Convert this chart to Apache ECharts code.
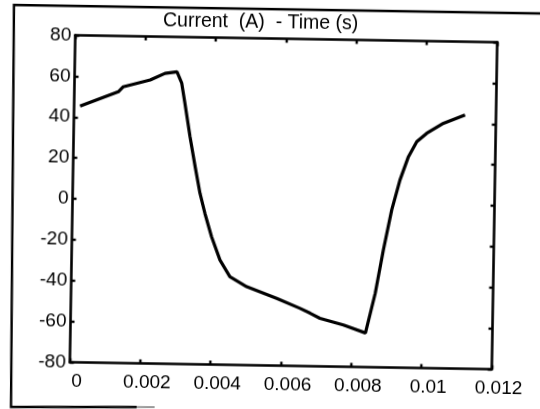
<!DOCTYPE html>
<html>
<head>
<meta charset="utf-8">
<script src="https://cdn.jsdelivr.net/npm/echarts@6/dist/echarts.min.js"></script>
<style>
  html, body { margin: 0; padding: 0; background: #fff; overflow: hidden; width: 540px; height: 409px; }
  #chart { position: absolute; left: -20px; top: -20px; width: 580px; height: 449px;
           transform-origin: 290px 224.5px; transform: rotate(0.95deg); }
</style>
</head>
<body>
<div id="chart"></div>
<script>
// Data
const timeValues = [0.00017, 0.00125, 0.00139, 0.00215, 0.00257, 0.00291, 0.00305, 0.00315,
  0.00331, 0.00347, 0.00362, 0.00377, 0.00397, 0.00422, 0.00451, 0.00499, 0.00585, 0.00652,
  0.00681, 0.00709, 0.00776, 0.00839, 0.00865, 0.00886, 0.00908, 0.00930, 0.00953, 0.00976,
  0.01004, 0.01051, 0.01112];
const currentValues = [45.4, 52.7, 55.2, 58.7, 62.1, 62.9, 57.4, 47.6,
  31.3, 16.7, 3.7, -6.1, -17.5, -28.8, -36.9, -41.6, -47.1, -51.8,
  -54.1, -56.5, -59.6, -63.3, -43.8, -22.6, -2.9, 11.8, 23.3, 30.7,
  34.9, 39.9, 44.2];
const xTickLabels = ['0', '0.002', '0.004', '0.006', '0.008', '0.01', '0.012'];
const yTickLabels = ['-80', '-60', '-40', '-20', '0', '20', '40', '60', '80'];
const titleText = 'Current  (A)  - Time (s)';

const FONT = 'Liberation Sans, Arial, Helvetica, sans-serif';
const seriesData = timeValues.map((t, i) => [t, currentValues[i]]);

const axisLineStyle = { show: true, onZero: false, lineStyle: { color: '#000', width: 2.6 } };
const tickStyle = { show: true, inside: true, length: 4, lineStyle: { color: '#000', width: 2.4 } };

const chart = echarts.init(document.getElementById('chart'), null, { renderer: 'canvas' });
chart.setOption({
  backgroundColor: '#fff',
  animation: false,
  title: {
    text: titleText,
    left: 180, top: 33, padding: 0,
    textStyle: { fontFamily: FONT, fontSize: 19.5, fontWeight: 'normal', color: '#000' }
  },
  grid: { left: 92.5, right: 65.5, top: 58.5, bottom: 63.5, containLabel: false },
  xAxis: [
    {
      type: 'value', min: 0, max: 0.012, interval: 0.002, position: 'bottom',
      axisLine: axisLineStyle, axisTick: tickStyle, splitLine: { show: false },
      axisLabel: {
        show: true, margin: 10, color: '#000', fontFamily: FONT, fontSize: 19,
        padding: [0, 0, 0, 14],
        formatter: v => xTickLabels[Math.round(v / 0.002)]
      }
    },
    {
      type: 'value', min: 0, max: 0.012, interval: 0.002, position: 'top',
      axisLine: axisLineStyle, axisTick: tickStyle, splitLine: { show: false },
      axisLabel: { show: false }
    }
  ],
  yAxis: [
    {
      type: 'value', min: -80, max: 80, interval: 20, position: 'left',
      axisLine: axisLineStyle, axisTick: tickStyle, splitLine: { show: false },
      axisLabel: {
        show: true, margin: 4, color: '#000', fontFamily: FONT, fontSize: 19,
        formatter: v => yTickLabels[Math.round((v + 80) / 20)]
      }
    },
    {
      type: 'value', min: -80, max: 80, interval: 20, position: 'right',
      axisLine: axisLineStyle, axisTick: tickStyle, splitLine: { show: false },
      axisLabel: { show: false }
    }
  ],
  series: [{
    type: 'line',
    data: seriesData,
    showSymbol: false,
    smooth: false,
    lineStyle: { color: '#000', width: 3.2 },
    silent: true
  }],
  graphic: [
    { type: 'polyline', silent: true,
      shape: { points: [[580, 29], [30.7, 29.2], [34.4, 431.3], [160, 429.3]] },
      style: { stroke: '#000', lineWidth: 2.4, fill: null } },
    { type: 'polyline', silent: true,
      shape: { points: [[160, 429.3], [178, 429]] },
      style: { stroke: '#999', lineWidth: 2, fill: null } }
  ]
});
</script>
</body>
</html>
